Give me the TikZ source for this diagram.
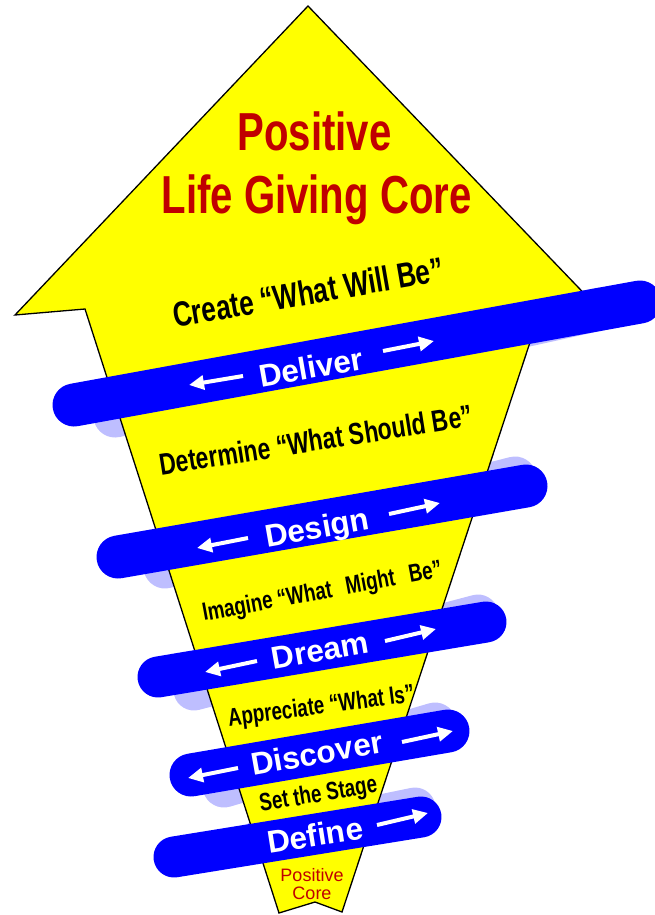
\documentclass[tikz,border=0pt]{standalone}
\usepackage{fontspec}
\setmainfont{Liberation Sans}
\newfontfamily\narrowfont[FakeStretch=0.75]{Liberation Sans}
\usetikzlibrary{arrows.meta}
\definecolor{coreyellow}{RGB}{255,255,0}
\definecolor{bandblue}{RGB}{0,0,255}
\definecolor{bandshadow}{RGB}{190,190,255}
\definecolor{corered}{RGB}{192,0,0}
\newcommand\nsize[1]{\narrowfont\bfseries\fontsize{#1}{#1}\selectfont}
\begin{document}
\begin{tikzpicture}[x=1pt,y=-1pt,
  band/.style={line width=#1, line cap=round, draw=bandblue},
  bandback/.style={line width=#1, line cap=round, draw=bandshadow},
  bandlabel/.style={text=white, font=\fontsize{31.5}{31.5}\selectfont\bfseries,
    inner sep=0pt, text height=22.5pt, text depth=0pt},
  phase/.style={text=black, inner sep=0pt, text depth=0pt},
  titletext/.style={text=corered, inner sep=0pt, text depth=0pt},
  warrow/.style={draw=white, line width=4pt, -{Triangle[length=15pt,width=14pt]}},
  coreshape/.style={fill=coreyellow, draw=black, line width=1.3pt, line join=miter}
]
\useasboundingbox (0,0) rectangle (655,915);

% back parts of the rings
\coordinate (s1a) at (115,416); \coordinate (s1b) at (600,309);
\coordinate (s2a) at (165,567); \coordinate (s2b) at (515,478);
\coordinate (s3a) at (194,690); \coordinate (s3b) at (478,615);
\coordinate (s4a) at (224,786); \coordinate (s4b) at (435,724);
\coordinate (s5a) at (260,840); \coordinate (s5b) at (415,808);
\draw[bandback=43pt] (s1a) -- (s1b);
\draw[bandback=43pt] (s2a) -- (s2b);
\draw[bandback=41pt] (s3a) -- (s3b);
\draw[bandback=43pt] (s4a) -- (s4b);
\draw[bandback=41pt] (s5a) -- (s5b);

% the arrow shape
\draw[coreshape] (308,6) -- (600,310) -- (540,312) -- (342,912) -- (315,902)
  -- (279,913) -- (85,309) -- (15,315) -- cycle;

% front parts of the rings
\coordinate (b1a) at (74,405);  \coordinate (b1b) at (640,302);
\coordinate (b2a) at (118,557); \coordinate (b2b) at (526,486);
\coordinate (b3a) at (158,677); \coordinate (b3b) at (486,622);
\coordinate (b4a) at (191,775); \coordinate (b4b) at (448,731);
\coordinate (b5a) at (174,857); \coordinate (b5b) at (421,817);
\draw[band=43pt] (b1a) -- (b1b);
\draw[band=43pt] (b2a) -- (b2b);
\draw[band=41pt] (b3a) -- (b3b);
\draw[band=43pt] (b4a) -- (b4b);
\draw[band=41pt] (b5a) -- (b5b);

% titles
\node[titletext, font=\nsize{53.5}, text height=38pt] (t1) at (314.5,131) {Positive};
\node[titletext, font=\nsize{53.5}, text height=38pt] (t2) at (316.5,194) {Life Giving Core};
\node[titletext, font=\fontsize{18}{18}\selectfont, text height=12.9pt] (t3) at (312,875.5) {Positive};
\node[titletext, font=\fontsize{18}{18}\selectfont, text height=12.9pt] (t4) at (312,893) {Core};

% phase texts
\node[phase, font=\nsize{35}, text height=25pt, rotate=9.8] (p1) at (308,292) {Create “What Will Be”};
\node[phase, font=\nsize{30.5}, text height=21.8pt, rotate=9] (p2) at (316,440) {Determine “What Should Be”};
\node[phase, font=\nsize{25}, text height=18pt, rotate=10.5] (p3) at (322,590) {Imagine “What\hspace{9pt} Might\hspace{9pt} Be”};
\node[phase, font=\nsize{25}, text height=18pt, rotate=7.5] (p4) at (321,705) {Appreciate “What Is”};
\node[phase, font=\nsize{25}, text height=18pt, rotate=9.5] (p5) at (318,793) {Set the Stage};

% band labels
\node[bandlabel, rotate=10] (l1) at (311,367) {Deliver};
\node[bandlabel, rotate=10] (l2) at (317,527) {Design};
\node[bandlabel, rotate=10] (l3) at (320,650) {Dream};
\node[bandlabel, rotate=10] (l4) at (317,753) {Discover};
\node[bandlabel, rotate=9] (l5) at (315,835) {Define};

% arrows
\coordinate (a1l) at (243,376); \coordinate (a1lt) at (189,385);
\coordinate (a1r) at (383,351); \coordinate (a1rt) at (434,341);
\coordinate (a2l) at (248,538); \coordinate (a2lt) at (197,548);
\coordinate (a2r) at (389,514); \coordinate (a2rt) at (440,503);
\coordinate (a3l) at (257,661); \coordinate (a3lt) at (205,672);
\coordinate (a3r) at (385,641); \coordinate (a3rt) at (436,629);
\coordinate (a4l) at (238,768); \coordinate (a4lt) at (188,778);
\coordinate (a4r) at (402,742); \coordinate (a4rt) at (453,731);
\coordinate (a5r) at (377,825); \coordinate (a5rt) at (428,813);
\draw[warrow] (a1l) -- (a1lt);
\draw[warrow] (a1r) -- (a1rt);
\draw[warrow] (a2l) -- (a2lt);
\draw[warrow] (a2r) -- (a2rt);
\draw[warrow] (a3l) -- (a3lt);
\draw[warrow] (a3r) -- (a3rt);
\draw[warrow] (a4l) -- (a4lt);
\draw[warrow] (a4r) -- (a4rt);
\draw[warrow] (a5r) -- (a5rt);
\end{tikzpicture}
\end{document}
